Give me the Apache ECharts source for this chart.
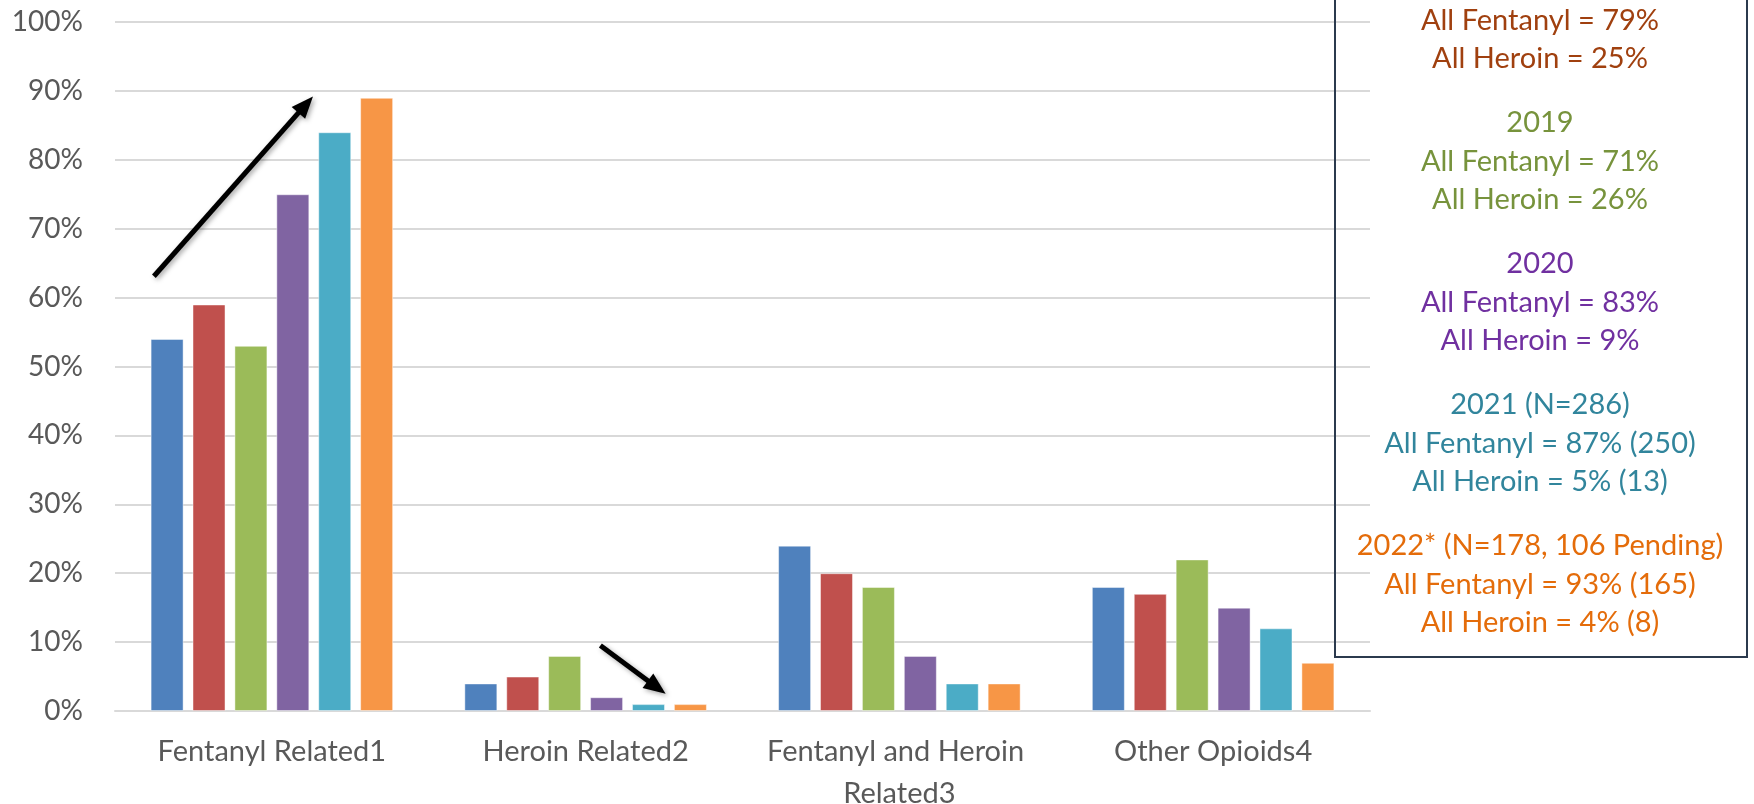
<!DOCTYPE html>
<html>
<head>
<meta charset="utf-8">
<script src="https://cdn.jsdelivr.net/npm/echarts@6/dist/echarts.min.js"></script>
<style>
html,body{margin:0;padding:0;background:#fff;}
#chart{width:1754px;height:804px;}
</style>
</head>
<body>
<div id="chart"></div>
<script>
// ---- data ----
const categories = ['Fentanyl Related1', 'Heroin Related2', 'Fentanyl and Heroin Related3', 'Other Opioids4'];
const years = ['2017', '2018', '2019', '2020', '2021', '2022'];
const v2017 = [54, 4, 24, 18];
const v2018 = [59, 5, 20, 17];
const v2019 = [53, 8, 18, 22];
const v2020 = [75, 2, 8, 15];
const v2021 = [84, 1, 4, 12];
const v2022 = [89, 1, 4, 7];
const seriesValues = [v2017, v2018, v2019, v2020, v2021, v2022];
const yTicks = [0, 10, 20, 30, 40, 50, 60, 70, 80, 90, 100];

// note box text (top of box is cut off in the original)
const noteBlocks = [
  { key: '2018', lines: ['All Fentanyl = 79%', 'All Heroin = 25%'] },
  { key: '2019', lines: ['2019', 'All Fentanyl = 71%', 'All Heroin = 26%'] },
  { key: '2020', lines: ['2020', 'All Fentanyl = 83%', 'All Heroin = 9%'] },
  { key: '2021', lines: ['2021 (N=286)', 'All Fentanyl = 87% (250)', 'All Heroin = 5% (13)'] },
  { key: '2022', lines: ['2022* (N=178, 106 Pending)', 'All Fentanyl = 93% (165)', 'All Heroin = 4% (8)'] }
];

// ---- styles ----
const barColors = ['#4F81BD', '#C0504D', '#9BBB59', '#8064A2', '#4BACC6', '#F79646'];
const noteColors = { '2018': '#A0400F', '2019': '#77933C', '2020': '#7030A0', '2021': '#31859C', '2022': '#E46C0A' };
const FONT = 'Lato';
const G = { left: 115, right: 384, top: 22, bottom: 93 };

const chart = echarts.init(document.getElementById('chart'), null, { renderer: 'canvas' });

const option = {
  animation: false,
  backgroundColor: '#ffffff',
  grid: { left: G.left, right: G.right, top: G.top, bottom: G.bottom, containLabel: false, outerBoundsMode: 'none' },
  xAxis: {
    type: 'category',
    data: categories,
    axisLine: { show: true, lineStyle: { color: '#D9D9D9', width: 2 } },
    axisTick: { show: false },
    axisLabel: {
      interval: 0,
      color: '#595959',
      fontFamily: FONT,
      fontSize: 29,
      lineHeight: 42,
      margin: 20,
      width: 300,
      overflow: 'break'
    }
  },
  yAxis: {
    type: 'value',
    min: yTicks[0],
    max: yTicks[yTicks.length - 1],
    interval: yTicks[1] - yTicks[0],
    axisLine: { show: false },
    axisTick: { show: false },
    splitLine: { show: true, lineStyle: { color: '#D9D9D9', width: 2 } },
    axisLabel: {
      color: '#595959',
      fontFamily: FONT,
      fontSize: 28,
      margin: 32,
      formatter: '{value}%'
    }
  },
  series: years.map((y, i) => ({
    name: y,
    type: 'bar',
    data: seriesValues[i],
    barWidth: 33,
    barGap: '27%',
    itemStyle: { color: barColors[i], borderColor: 'rgba(255,255,255,0.45)', borderWidth: 1 }
  }))
};
chart.setOption(option);

// ---- annotations ----
const bandW = (1754 - G.left - G.right) / categories.length;
function pt(band, val) {
  return [G.left + band * bandW, chart.convertToPixel({ yAxisIndex: 0 }, val)];
}
// arrows defined in data space: [band position, percent value]
const arrows = [
  { from: [0.124, 63.1], to: [0.631, 89.2] },
  { from: [1.547, 9.5], to: [1.755, 2.5] }
];
const graphics = [];
arrows.forEach(a => {
  const p1 = pt(a.from[0], a.from[1]);
  const p2 = pt(a.to[0], a.to[1]);
  const dx = p2[0] - p1[0], dy = p2[1] - p1[1];
  const len = Math.sqrt(dx * dx + dy * dy);
  const ux = dx / len, uy = dy / len;
  const headL = 22, headW = 9;
  const base = [p2[0] - ux * headL, p2[1] - uy * headL];
  const shadow = { shadowBlur: 5, shadowColor: 'rgba(0,0,0,0.35)', shadowOffsetX: 2, shadowOffsetY: 2 };
  graphics.push({
    type: 'line', z: 100,
    shape: { x1: p1[0], y1: p1[1], x2: base[0] + ux * 2, y2: base[1] + uy * 2 },
    style: Object.assign({ stroke: '#000', lineWidth: 5 }, shadow)
  });
  graphics.push({
    type: 'polygon', z: 100,
    shape: { points: [
      [p2[0], p2[1]],
      [base[0] - uy * headW, base[1] + ux * headW],
      [base[0] + uy * headW, base[1] - ux * headW]
    ] },
    style: Object.assign({ fill: '#000' }, shadow)
  });
});

// note box
graphics.push({
  type: 'rect', z: 90,
  shape: { x: 1335, y: -20, width: 412, height: 677 },
  style: { fill: 'none', stroke: '#2B3A4E', lineWidth: 2 }
});
const lineStep = 38.5, blockStep = 141, cx = 1540;
noteBlocks.forEach((b, bi) => {
  const lastY = 59 + bi * blockStep;
  b.lines.forEach((t, li) => {
    const y = lastY - (b.lines.length - 1 - li) * lineStep;
    graphics.push({
      type: 'text', z: 95,
      x: cx, y: y,
      style: {
        text: t, fill: noteColors[b.key], font: '29px ' + FONT,
        align: 'center', verticalAlign: 'middle'
      }
    });
  });
});
chart.setOption({ graphic: graphics });
</script>
</body>
</html>
